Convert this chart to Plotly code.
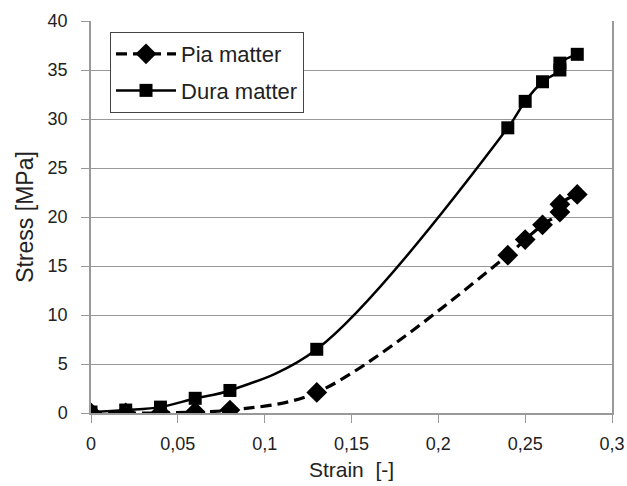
import plotly.graph_objects as go

strain = [0, 0.02, 0.04, 0.06, 0.08, 0.13, 0.24, 0.25, 0.26, 0.27, 0.27, 0.28]
pia_stress = [0.0, 0.0, 0.0, 0.1, 0.3, 2.1, 16.1, 17.7, 19.2, 20.5, 21.3, 22.3]
dura_stress = [0.1, 0.3, 0.6, 1.5, 2.3, 6.5, 29.1, 31.8, 33.8, 35.0, 35.7, 36.6]
x_ticks = [0, 0.05, 0.1, 0.15, 0.2, 0.25, 0.3]
x_tick_labels = ["0", "0,05", "0,1", "0,15", "0,2", "0,25", "0,3"]
y_ticks = [0, 5, 10, 15, 20, 25, 30, 35, 40]

fig = go.Figure()
fig.add_trace(go.Scatter(
    x=strain, y=pia_stress, name="Pia matter", mode="lines+markers", legendgroup="a",
    line=dict(color="black", width=3.2, dash="11px,6px", shape="spline", smoothing=1),
    marker=dict(symbol="diamond", size=16, color="black"),
))
fig.add_trace(go.Scatter(
    x=strain, y=dura_stress, name="Dura matter", mode="lines+markers", legendgroup="b",
    line=dict(color="black", width=2.5, shape="spline", smoothing=1),
    marker=dict(symbol="square", size=13, color="black"),
))

fig.update_layout(
    width=627, height=486,
    margin=dict(l=91, r=15, t=21, b=73),
    paper_bgcolor="white", plot_bgcolor="white",
    font=dict(family="Liberation Sans, Arial", size=18, color="#222"),
    showlegend=True,
    legend=dict(
        x=0.0365, y=0.972, xanchor="left", yanchor="top",
        bordercolor="#444", borderwidth=1, bgcolor="white",
        font=dict(size=22, family="Liberation Sans, Arial"),
        tracegroupgap=5, itemwidth=60,
    ),
    xaxis=dict(
        range=[0, 0.3], tickvals=x_ticks, ticktext=x_tick_labels,
        showgrid=False, showline=True, linecolor="#999", linewidth=1.5,
        ticks="outside", ticklen=8, tickcolor="#999",
        mirror=False, zeroline=False, automargin=False, ticklabelstandoff=6,
        title=dict(text="Strain  [-]", font=dict(size=21), standoff=9),
    ),
    yaxis=dict(
        range=[0, 40], tickvals=y_ticks,
        showgrid=True, gridcolor="#999", gridwidth=1,
        showline=True, linecolor="#999", linewidth=1.5, mirror=True,
        ticks="outside", ticklen=8, tickcolor="#999",
        zeroline=False, automargin=False, ticklabelstandoff=10,
        title=dict(text="Stress [MPa]", font=dict(size=23), standoff=8),
    ),
)

fig.write_html(
    "out.html",
    config={"displayModeBar": False},
    post_script="document.body.style.margin='0';document.body.style.overflow='hidden';",
)
